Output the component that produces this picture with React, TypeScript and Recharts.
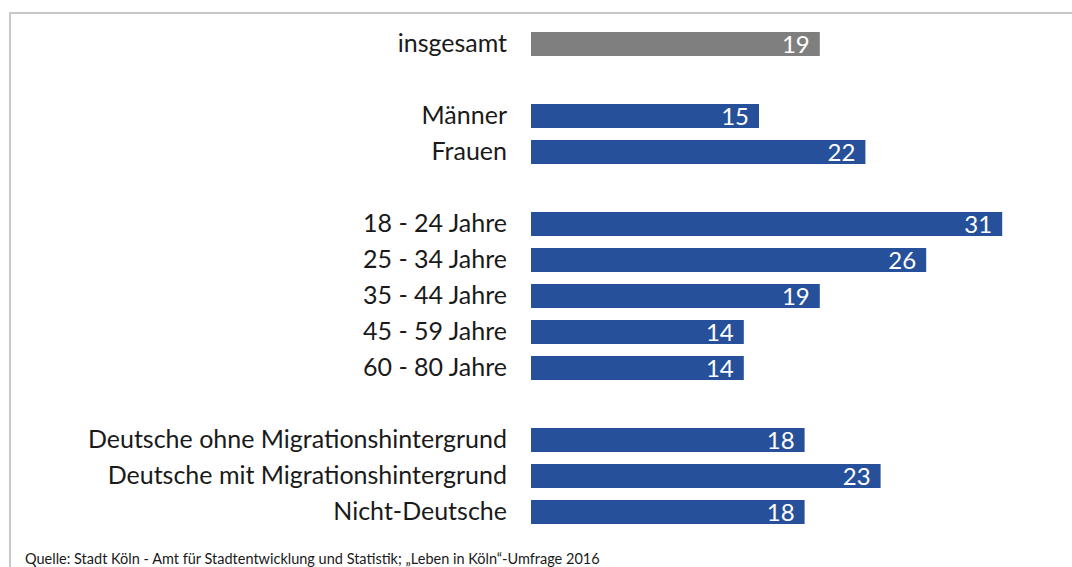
import { BarChart, Bar, XAxis, YAxis, Cell, LabelList } from "recharts";

// row keys (gap rows are empty spacers)
const keys = ["ges", "gap1", "m", "f", "gap2", "a1", "a2", "a3", "a4", "a5", "gap3", "d1", "d2", "nd"];
const labels = [
    "insgesamt", "",
    "Männer", "Frauen", "",
    "18 - 24 Jahre", "25 - 34 Jahre", "35 - 44 Jahre", "45 - 59 Jahre", "60 - 80 Jahre", "",
    "Deutsche ohne Migrationshintergrund", "Deutsche mit Migrationshintergrund", "Nicht-Deutsche"
];
const values = [19, null, 15, 22, null, 31, 26, 19, 14, 14, null, 18, 23, 18];

const data = keys.map((k, i) => ({ key: k, label: labels[i], value: values[i] }));

const FONT = "Lato, 'Open Sans', sans-serif";
const BLUE = "#27509b";
const GREY = "#7f7f7f";

const App = () => {

    return (

        <div style={{ position: "absolute", left: 0, top: 0, width: 1072, height: 567, background: "#fff", overflow: "hidden" }}>

            <div style={{ position: "absolute", left: 9, top: 12, width: 1100, height: 600, borderTop: "2px solid #c8c8c8", borderLeft: "2px solid #c8c8c8" }} />

            <BarChart
                width={1072}
                height={567}
                data={data}
                layout="vertical"
                margin={{ top: 26, right: 9, bottom: 37, left: 0 }}
                barCategoryGap={12}
            >

                <XAxis type="number" domain={[0, 35]} hide />

                <YAxis
                    type="category"
                    dataKey="key"
                    width={531}
                    axisLine={false}
                    tickLine={false}
                    tickSize={0}
                    tickMargin={24}
                    interval={0}
                    tickFormatter={(k: string) => labels[keys.indexOf(k)]}
                    tick={{ fill: "#1a1a1a", fontSize: 25, fontFamily: FONT, dy: -1 }}
                />

                <Bar dataKey="value" barSize={24} isAnimationActive={false}>

                    {data.map((d, i) => (
                        <Cell key={d.key} fill={i === 0 ? GREY : BLUE} />
                    ))}

                    <LabelList
                        dataKey="value"
                        position="insideRight"
                        offset={10}
                        fill="#fff"
                        fontSize={24}
                        fontFamily={FONT}
                    />

                </Bar>

            </BarChart>

            <div style={{ position: "absolute", left: 25, top: 550, fontSize: 14.5, fontFamily: FONT, color: "#1a1a1a", whiteSpace: "nowrap" }}>

                Quelle: Stadt Köln - Amt für Stadtentwicklung und Statistik; „Leben in Köln“-Umfrage 2016

            </div>

        </div>

    );

};

export default App;
